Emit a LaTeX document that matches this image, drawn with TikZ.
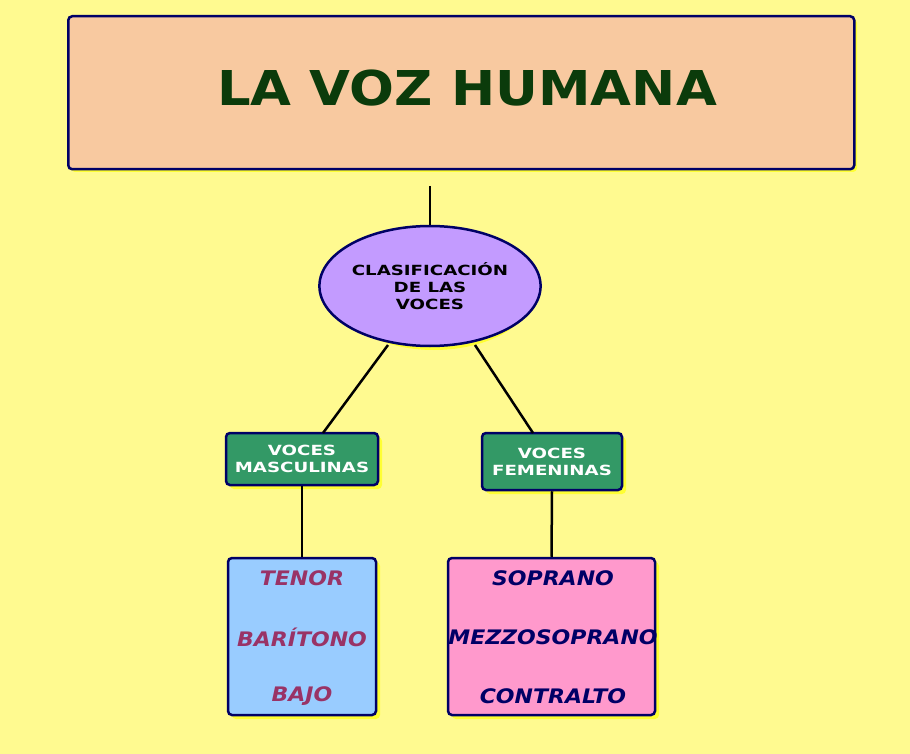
\documentclass[tikz,border=0pt]{standalone}
\usepackage{fontspec}
\setmainfont{DejaVu Sans}
\newfontfamily\wide[FakeStretch=1.3]{DejaVu Sans}
\newfontfamily\semi[FakeStretch=1.1]{DejaVu Sans}
\usetikzlibrary{shapes.geometric}
\definecolor{bg}{HTML}{FFFA90}
\definecolor{peach}{HTML}{F8C9A0}
\definecolor{lila}{HTML}{C39BFF}
\definecolor{gr}{HTML}{339966}
\definecolor{lblue}{HTML}{99CCFF}
\definecolor{lpink}{HTML}{FF99CC}
\definecolor{navy}{HTML}{000066}
\definecolor{dgreen}{HTML}{0B3B0B}
\definecolor{plum}{HTML}{993366}
\definecolor{shad}{HTML}{FFFF33}
\tikzset{
 box/.style={draw=navy,line width=2.5pt,rounded corners=4pt},
 conn/.style={line width=2.5pt,black},
 small/.style={font=\wide\bfseries\fontsize{14}{17}\selectfont},
 big/.style={font=\semi\bfseries\itshape\fontsize{20}{20}\selectfont},
}
\begin{document}
\begin{tikzpicture}[x=1pt,y=-1pt]
\fill[bg] (0,0) rectangle (910,754);
\useasboundingbox (0,0) rectangle (910,754);
% shadows
\fill[shad,rounded corners=4pt] (71,19) rectangle (857,172);
\fill[shad] (434,290) ellipse [x radius=101, y radius=60];
\fill[shad,rounded corners=4pt] (230,437) rectangle (382,489);
\fill[shad,rounded corners=4pt] (486,437) rectangle (626,494);
\fill[shad,rounded corners=4pt] (232,562) rectangle (380,719);
\fill[shad,rounded corners=4pt] (452,562) rectangle (659,719);
% title
\node[box,fill=peach,minimum width=786pt,minimum height=153pt,anchor=north west,inner sep=0pt] (title) at (67,15) {};
\node[text=dgreen,font=\semi\bfseries\fontsize{48}{48}\selectfont] at (467,88) {LA VOZ HUMANA};
\coordinate (tb) at (430,186);
\node[ellipse,draw=navy,line width=2.5pt,fill=lila,minimum width=202pt,minimum height=120pt,inner sep=0pt,align=center,small] (cl) at (430,286) {CLASIFICACIÓN\\DE LAS\\VOCES};
\node[box,fill=gr,minimum width=152pt,minimum height=52pt,inner sep=0pt,align=center,text=white,small] (vm) at (302,459) {VOCES\\MASCULINAS};
\node[box,fill=gr,minimum width=140pt,minimum height=57pt,inner sep=0pt,align=center,text=white,small] (vf) at (552,461.5) {VOCES\\FEMENINAS};
\node[box,fill=lblue,minimum width=148pt,minimum height=157pt,inner sep=0pt] (bm) at (302,636.5) {};
\node[box,fill=lpink,minimum width=207pt,minimum height=157pt,inner sep=0pt] (bf) at (551.5,636.5) {};
\begin{scope}[big,text=plum]
\node at (302,578) {TENOR};
\node at (302,637) {BARÍTONO};
\node at (302,696) {BAJO};
\end{scope}
\begin{scope}[big,text=navy]
\node at (553,578) {SOPRANO};
\node at (553,637) {MEZZOSOPRANO};
\node at (553,696) {CONTRALTO};
\end{scope}
\draw[conn] (tb) -- (cl.north);
\draw[conn] (388,345) -- (323,433);
\draw[conn] (475,345) -- (533,433);
\draw[conn] (vm.south) -- (bm.north);
\draw[conn] (vf.south) -- (bf.north);
\end{tikzpicture}
\end{document}
